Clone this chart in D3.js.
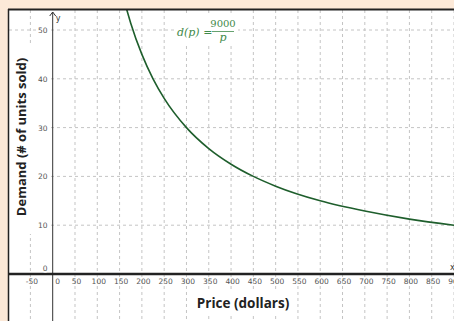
<!DOCTYPE html>
<html>
<head>
<meta charset="utf-8">
<script src="https://cdn.jsdelivr.net/npm/d3@7"></script>
<style>
  body { margin: 0; background: #fce9d8; }
  svg { display: block; }
</style>
</head>
<body>
<div id="chart"></div>
<script>
// Data
var price_values    =   [166, 175, 200, 225, 250, 300, 350, 400, 450, 500, 600, 700, 800, 900];
var demand_values   =   [54.2, 51.4, 45, 40, 36, 30, 25.7, 22.5, 20, 18, 15, 12.9, 11.25, 10];
var x_ticks         =   [-50, 0, 50, 100, 150, 200, 250, 300, 350, 400, 450, 500, 550, 600, 650, 700, 750, 800, 850, 900];
var y_ticks         =   [0, 10, 20, 30, 40, 50];

var chart_width     =   454;
var chart_height    =   321;
var frame_left      =   9;
var frame_top       =   10;

var data = price_values.map(function(p, i) {
    return { price: p, demand: demand_values[i] };
});

// Scales
var x_scale         =   d3.scaleLinear()
    .domain([0, 900])
    .range([52.7, 454]);
var y_scale         =   d3.scaleLinear()
    .domain([0, 50])
    .range([274, 30]);

// SVG
var svg             =   d3.select("#chart")
    .append("svg")
    .attr("width", chart_width)
    .attr("height", chart_height);

svg.append("rect")
    .attr("width", chart_width)
    .attr("height", chart_height)
    .attr("fill", "#fce9d8");

svg.append("rect")
    .attr("x", frame_left)
    .attr("y", frame_top)
    .attr("width", chart_width - frame_left)
    .attr("height", chart_height - frame_top)
    .attr("fill", "#ffffff");

// Grid
svg.append("g")
    .selectAll("line")
    .data(x_ticks.filter(function(d) { return d !== 0; }))
    .enter()
    .append("line")
    .attr("x1", function(d) { return x_scale(d); })
    .attr("x2", function(d) { return x_scale(d); })
    .attr("y1", frame_top)
    .attr("y2", chart_height)
    .attr("stroke", "#c4c4c4")
    .attr("stroke-width", 1)
    .attr("stroke-dasharray", "3,3");

svg.append("g")
    .selectAll("line")
    .data(y_ticks.filter(function(d) { return d !== 0; }))
    .enter()
    .append("line")
    .attr("x1", frame_left)
    .attr("x2", chart_width)
    .attr("y1", function(d) { return y_scale(d); })
    .attr("y2", function(d) { return y_scale(d); })
    .attr("stroke", "#c4c4c4")
    .attr("stroke-width", 1)
    .attr("stroke-dasharray", "3,3");

// Axes
svg.append("line")
    .attr("x1", x_scale(0))
    .attr("x2", x_scale(0))
    .attr("y1", frame_top + 2)
    .attr("y2", chart_height)
    .attr("stroke", "#333")
    .attr("stroke-width", 1);

svg.append("path")
    .attr("d", "M" + (x_scale(0) - 3) + "," + (frame_top + 6) + " L" + x_scale(0) + "," + (frame_top + 2) + " L" + (x_scale(0) + 3) + "," + (frame_top + 6))
    .attr("fill", "none")
    .attr("stroke", "#333")
    .attr("stroke-width", 1);

svg.append("text")
    .attr("x", x_scale(0) + 3)
    .attr("y", 21)
    .attr("font-family", "DejaVu Sans")
    .attr("font-size", 8)
    .attr("fill", "#333")
    .text("y");

svg.append("line")
    .attr("x1", frame_left)
    .attr("x2", chart_width)
    .attr("y1", y_scale(0))
    .attr("y2", y_scale(0))
    .attr("stroke", "#222")
    .attr("stroke-width", 2.5);

svg.append("text")
    .attr("x", 450)
    .attr("y", 270)
    .attr("font-family", "DejaVu Sans")
    .attr("font-size", 8)
    .attr("fill", "#333")
    .text("x");

// Tick labels
svg.append("g")
    .selectAll("text")
    .data(x_ticks)
    .enter()
    .append("text")
    .attr("x", function(d) { return d === 0 ? x_scale(0) + 5 : x_scale(d) + 1.5; })
    .attr("y", 284)
    .attr("text-anchor", "middle")
    .attr("font-family", "DejaVu Sans")
    .attr("font-size", 7.5)
    .attr("fill", "#555")
    .text(function(d) { return d; });

svg.append("g")
    .selectAll("text")
    .data(y_ticks)
    .enter()
    .append("text")
    .attr("x", 47.5)
    .attr("y", function(d) { return d === 0 ? y_scale(0) - 3 : y_scale(d) + 3; })
    .attr("text-anchor", "end")
    .attr("font-family", "DejaVu Sans")
    .attr("font-size", 7.5)
    .attr("fill", "#555")
    .attr("stroke", "#fff")
    .attr("stroke-width", 3)
    .attr("paint-order", "stroke")
    .text(function(d) { return d; });

// Curve
var line = d3.line()
    .x(function(d) { return x_scale(d.price); })
    .y(function(d) { return y_scale(d.demand); })
    .curve(d3.curveMonotoneX);

svg.append("path")
    .datum(data)
    .attr("d", line)
    .attr("fill", "none")
    .attr("stroke", "#1e5e2c")
    .attr("stroke-width", 1.6);

// Formula
var formula_color = "#3f8a4a";
var formula = svg.append("g");
formula.append("rect")
    .attr("x", 174)
    .attr("y", 14)
    .attr("width", 64)
    .attr("height", 30)
    .attr("fill", "#fff");
formula.append("text")
    .attr("x", 177)
    .attr("y", 36)
    .attr("font-family", "DejaVu Serif")
    .attr("font-size", 11)
    .attr("font-style", "italic")
    .attr("fill", formula_color)
    .text("d(p) =");
formula.append("text")
    .attr("x", 223)
    .attr("y", 27)
    .attr("text-anchor", "middle")
    .attr("font-family", "DejaVu Serif")
    .attr("font-size", 10)
    .attr("fill", formula_color)
    .text("9000");
formula.append("line")
    .attr("x1", 212)
    .attr("x2", 234)
    .attr("y1", 31.5)
    .attr("y2", 31.5)
    .attr("stroke", formula_color)
    .attr("stroke-width", 0.8);
formula.append("text")
    .attr("x", 223)
    .attr("y", 41)
    .attr("text-anchor", "middle")
    .attr("font-family", "DejaVu Serif")
    .attr("font-size", 11)
    .attr("font-style", "italic")
    .attr("fill", formula_color)
    .text("p");

// Axis titles (on white boxes that hide the grid)
svg.append("rect")
    .attr("x", 194)
    .attr("y", 292)
    .attr("width", 98)
    .attr("height", 22)
    .attr("fill", "#fff");
svg.append("text")
    .attr("x", 243)
    .attr("y", 308)
    .attr("text-anchor", "middle")
    .attr("font-family", "Open Sans")
    .attr("font-weight", "bold")
    .attr("font-size", 13.5)
    .attr("fill", "#222")
    .text("Price (dollars)");

svg.append("rect")
    .attr("x", frame_left)
    .attr("y", 44)
    .attr("width", 27)
    .attr("height", 190)
    .attr("fill", "#fff");
svg.append("text")
    .attr("transform", "translate(26,137) rotate(-90)")
    .attr("text-anchor", "middle")
    .attr("font-family", "Open Sans")
    .attr("font-weight", "bold")
    .attr("font-size", 13)
    .attr("fill", "#222")
    .text("Demand (# of units sold)");

// Frame border
svg.append("line")
    .attr("x1", frame_left - 1)
    .attr("x2", chart_width)
    .attr("y1", frame_top - 0.5)
    .attr("y2", frame_top - 0.5)
    .attr("stroke", "#222")
    .attr("stroke-width", 2);
svg.append("line")
    .attr("x1", frame_left - 0.5)
    .attr("x2", frame_left - 0.5)
    .attr("y1", frame_top - 1)
    .attr("y2", chart_height)
    .attr("stroke", "#222")
    .attr("stroke-width", 1.5);
</script>
</body>
</html>
